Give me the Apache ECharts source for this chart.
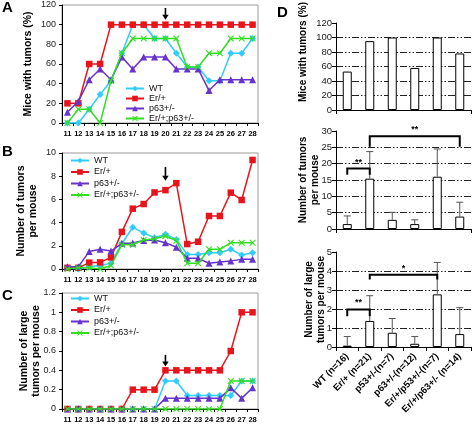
<!DOCTYPE html>
<html><head><meta charset="utf-8">
<script src="https://cdn.jsdelivr.net/npm/echarts@6/dist/echarts.min.js"></script>
<style>html,body{margin:0;padding:0;background:#fff}#c{width:473px;height:424px}</style>
</head><body><div id="c"></div>
<script>
// ---------- data ----------
const days = ['11','12','13','14','15','16','17','18','19','20','21','22','23','24','25','26','27','28'];
const groupNames = ['WT','Er/+','p63+/-','Er/+;p63+/-'];
const arrowDay = 9; // index of day '20'

// Panel A: mice with tumors (%)
const pctWT    = [0,0,14,29,43,71,100,100,86,86,71,57,57,43,43,71,71,86];
const pctEr    = [20,20,60,60,100,100,100,100,100,100,100,100,100,100,100,100,100,100];
const pctP63   = [11,22,44,55,44,67,55,67,67,67,55,55,55,33,44,44,44,44];
const pctErP63 = [0,14,14,0,43,71,86,86,86,86,86,57,57,71,71,86,86,86];

// Panel B: number of tumors per mouse
const numWT    = [0.1,0,0.2,0.3,0.5,2.2,3.6,3.1,2.7,3.0,2.55,1.26,1.26,1.4,1.4,1.7,1.2,1.4];
const numEr    = [0.1,0.1,0.55,0.57,1.0,3.2,5.2,5.6,6.6,6.8,7.4,2.15,2.35,4.57,4.57,6.58,5.95,9.4];
const numP63   = [0.2,0.2,1.5,1.7,1.55,2.2,2.25,2.45,2.5,2.27,1.87,0.92,0.92,0.5,0.6,0.7,0.83,0.83];
const numErP63 = [0,0.1,0.1,0,0.3,2.1,2.1,2.5,2.6,2.85,2.44,0.5,0.5,1.7,1.7,2.27,2.27,2.27];

// Panel C: number of large tumors per mouse
const lrgWT    = [0,0,0,0,0,0,0,0,0,0.29,0.29,0.14,0.14,0.14,0.14,0.14,0.29,0.29];
const lrgEr    = [0,0,0,0,0,0,0.2,0.2,0.2,0.4,0.4,0.4,0.4,0.4,0.4,0.6,1,1];
const lrgP63   = [0,0,0,0,0,0,0,0,0,0.11,0.11,0.11,0.11,0.11,0.11,0.22,0.11,0.22];
const lrgErP63 = [0,0,0,0,0,0,0,0,0,0,0,0,0,0,0,0.29,0.29,0.29];

// arrow spans (value from, value to) per panel
const arrowSpans = [[117,105],[8.8,7.6],[0.56,0.44]];

// Panel D
const dCats = ['WT (n=16)','Er/+ (n=21)','p53+/-(n=7)','p63+/-(n=12)','Er/+/p53+/-(n=7)','Er/+/p63+/- (n=14)'];
const dPct = [53,95,100,58,100,78];
const dNum = [1.5,15.4,2.8,1.5,16,3.8];
const dNumErrTop = [4.0,23.7,5.1,2.8,24.5,8.2];
const dLrg = [0.07,1.37,0.75,0.17,2.77,0.68];
const dLrgErrTop = [0.55,2.7,1.5,0.55,4.45,2.07];
// brackets: [fromIndex, toIndex, barHeight, legEnd]
const bracketNum = [[0,1,18.5,16.6],[1,5,28.4,25.2]];
const bracketNumStars = ['**','**'];
const bracketLrg = [[0,1,1.98,1.62],[1,4,3.8,3.55]];
const bracketLrgStars = ['**','*'];

// ---------- styles ----------
const FONT = 'Liberation Sans, Arial, sans-serif';
const colors = ['#33ccff','#e8141c','#6633cc','#33dd22'];
const symbols = ['diamond','rect','triangle',
  'path://M0,1.2L1.2,0L5,3.8L8.8,0L10,1.2L6.2,5L10,8.8L8.8,10L5,6.2L1.2,10L0,8.8L3.8,5Z'];
const symSizes = [7,6.5,7,6.5];

const lineGrids = [
  {left:62, top:5, width:196, height:118},
  {left:62, top:153, width:196, height:116},
  {left:62, top:293, width:196, height:117}
];
const dGrids = [
  {left:336, top:23, width:135, height:87},
  {left:336, top:131, width:135, height:98},
  {left:336, top:252, width:135, height:95}
];
const grids = lineGrids.map(g => Object.assign({show:true, borderColor:'#9a9a9a', borderWidth:1, backgroundColor:'#fff'}, g))
  .concat(dGrids.map(g => Object.assign({}, g)));

const xAxes = [], yAxes = [];
const lineY = [
  {min:0,max:120,interval:20,name:'Mice with tumors (%)',gap:28},
  {min:0,max:10,interval:2,name:'Number of tumors\nper mouse',gap:23},
  {min:0,max:1.2,interval:0.2,name:'Number of large\ntumors per mouse',gap:20}
];
for (let i=0;i<3;i++){
  xAxes.push({type:'category', gridIndex:i, data:days, boundaryGap:true,
    axisLine:{lineStyle:{color:'#000',width:1}},
    axisTick:{show:true,length:3,lineStyle:{color:'#000'}},
    axisLabel:{fontSize:7.5,fontWeight:'bold',color:'#000',fontFamily:FONT,margin:7,interval:0}});
  const c = lineY[i];
  yAxes.push({type:'value', gridIndex:i, min:c.min, max:c.max, interval:c.interval,
    name:c.name, nameLocation:'middle', nameGap:c.gap, nameMoveOverlap:false,
    nameTextStyle:{fontSize:10.5,fontWeight:'bold',color:'#000',fontFamily:FONT,lineHeight:12},
    axisLine:{show:true,lineStyle:{color:'#000',width:1}},
    axisTick:{show:true,length:3,lineStyle:{color:'#000'}},
    splitLine:{show:false},
    axisLabel:{fontSize:9,color:'#222',fontFamily:FONT,margin:6}});
}
const dY = [
  {min:0,max:120,interval:20,name:'',gap:0},
  {min:0,max:30,interval:5,name:'Number of tumors\nper mouse',gap:15},
  {min:0,max:5,interval:1,name:'Number of large\ntumors per mouse',gap:9}
];
for (let i=0;i<3;i++){
  xAxes.push({type:'category', gridIndex:3+i, data:dCats, boundaryGap:true,
    axisLine:{lineStyle:{color:'#000',width:1}},
    axisTick:{show:true,length:4,lineStyle:{color:'#000'}},
    axisLabel: i===2 ? {rotate:45,fontSize:9.5,fontWeight:'bold',color:'#000',fontFamily:FONT,margin:8,interval:0} : {show:false}});
  const c = dY[i];
  yAxes.push({type:'value', gridIndex:3+i, min:c.min, max:c.max, interval:c.interval,
    name:c.name, nameLocation:'middle', nameGap:c.gap, nameMoveOverlap:false,
    nameTextStyle:{fontSize:10,fontWeight:'bold',color:'#000',fontFamily:FONT,lineHeight:12},
    axisLine:{show:true,lineStyle:{color:'#000',width:1}},
    axisTick:{show:true,length:4,lineStyle:{color:'#000'}},
    splitLine:{show:true,showMinLine:false,showMaxLine:false,lineStyle:{color:'#222',width:1,type:[7,2,1.5,2,1.5,2]}},
    axisLabel:{fontSize:9.5,color:'#222',fontFamily:FONT,margin:4}});
}

const series = [];
const lineData = [
  [pctWT,pctEr,pctP63,pctErP63],
  [numWT,numEr,numP63,numErP63],
  [lrgWT,lrgEr,lrgP63,lrgErP63]
];
for (let p=0;p<3;p++){
  for (let s=0;s<4;s++){
    series.push({type:'line', name:groupNames[s], xAxisIndex:p, yAxisIndex:p,
      data:lineData[p][s], symbol:symbols[s], symbolSize:symSizes[s],
      lineStyle:{color:colors[s],width:1.5}, itemStyle:{color:colors[s]},
      showAllSymbol:true, z: 2+s});
  }
}

function arrowRender(params, api){
  const x = api.value(0), y0 = api.value(1), y1 = api.value(2);
  const p0 = api.coord([x, y0]), p1 = api.coord([x, y1]);
  const hw = 3.2, hh = 5;
  return {type:'group', children:[
    {type:'line', shape:{x1:p0[0],y1:p0[1],x2:p1[0],y2:p1[1]-hh+1}, style:{stroke:'#000', lineWidth:1.6}},
    {type:'polygon', shape:{points:[[p1[0]-hw,p1[1]-hh],[p1[0]+hw,p1[1]-hh],[p1[0],p1[1]]]}, style:{fill:'#000'}}
  ]};
}
for (let p=0;p<3;p++){
  series.push({type:'custom', xAxisIndex:p, yAxisIndex:p, renderItem:arrowRender, clip:false, silent:true,
    data:[[arrowDay, arrowSpans[p][0], arrowSpans[p][1]]], z:10});
}

function errRender(params, api){
  const x = api.value(0), base = api.value(1), top = api.value(2);
  const p0 = api.coord([x, base]), p1 = api.coord([x, top]);
  const st = {stroke:'#555', lineWidth:1};
  return {type:'group', children:[
    {type:'line', shape:{x1:p0[0],y1:p0[1],x2:p1[0],y2:p1[1]}, style:st},
    {type:'line', shape:{x1:p1[0]-3.5,y1:p1[1],x2:p1[0]+3.5,y2:p1[1]}, style:st}
  ]};
}
function bracketRender(stars){
  return function(params, api){
    const a = api.value(0), b = api.value(1), h = api.value(2), l = api.value(3);
    const pa = api.coord([a,h]), pb = api.coord([b,h]);
    const la = api.coord([a,l]), lb = api.coord([b,l]);
    return {type:'group', children:[
      {type:'polyline', shape:{points:[[la[0],la[1]],[pa[0],pa[1]],[pb[0],pb[1]],[lb[0],lb[1]]]},
        style:{stroke:'#000', lineWidth:2, fill:null}},
      {type:'text', x:(pa[0]+pb[0])/2, y:pa[1]-2,
        style:{text:stars[params.dataIndex], font:'bold 9px '+FONT, fill:'#000', align:'center', verticalAlign:'bottom'}}
    ]};
  };
}
const barVals = [dPct,dNum,dLrg];
for (let i=0;i<3;i++){
  series.push({type:'bar', xAxisIndex:3+i, yAxisIndex:3+i, data:barVals[i], barWidth:9,
    itemStyle:{color:'#fff', borderColor:'#000', borderWidth:1}, silent:true});
}
series.push({type:'custom', xAxisIndex:4, yAxisIndex:4, renderItem:errRender, clip:false,
  data:dNum.map((v,i)=>[i,v,dNumErrTop[i]]), z:5, silent:true});
series.push({type:'custom', xAxisIndex:5, yAxisIndex:5, renderItem:errRender, clip:false,
  data:dLrg.map((v,i)=>[i,v,dLrgErrTop[i]]), z:5, silent:true});
series.push({type:'custom', xAxisIndex:4, yAxisIndex:4, renderItem:bracketRender(bracketNumStars), clip:false,
  data:bracketNum, z:6, silent:true});
series.push({type:'custom', xAxisIndex:5, yAxisIndex:5, renderItem:bracketRender(bracketLrgStars), clip:false,
  data:bracketLrg, z:6, silent:true});

const legendBase = {orient:'vertical', itemWidth:18, itemHeight:7, selectedMode:false,
  textStyle:{fontSize:9,color:'#111',fontFamily:FONT}, data:groupNames, padding:0};
const legends = [
  Object.assign({left:125, top:84, itemGap:1}, legendBase),
  Object.assign({left:70, top:156, itemGap:2.5}, legendBase),
  Object.assign({left:70, top:294, itemGap:2.5}, legendBase)
];

const letterStyle = (t)=>({text:t, font:'bold 15px '+FONT, fill:'#000'});
const option = {
  animation:false,
  backgroundColor:'#fff',
  grid:grids, xAxis:xAxes, yAxis:yAxes, series:series, legend:legends,
  graphic:[
    {type:'text', left:2, top:0, style:letterStyle('A')},
    {type:'text', left:2, top:144, style:letterStyle('B')},
    {type:'text', left:2, top:288, style:letterStyle('C')},
    {type:'text', left:277, top:5, style:letterStyle('D')},
    {type:'text', x:303, y:52, rotation:Math.PI/2,
      style:{text:'Mice with tumors (%)', font:'bold 10px '+FONT, fill:'#000', align:'center', verticalAlign:'middle'}}
  ]
};
const chart = echarts.init(document.getElementById('c'), null, {renderer:'canvas'});
chart.setOption(option);
</script></body></html>
